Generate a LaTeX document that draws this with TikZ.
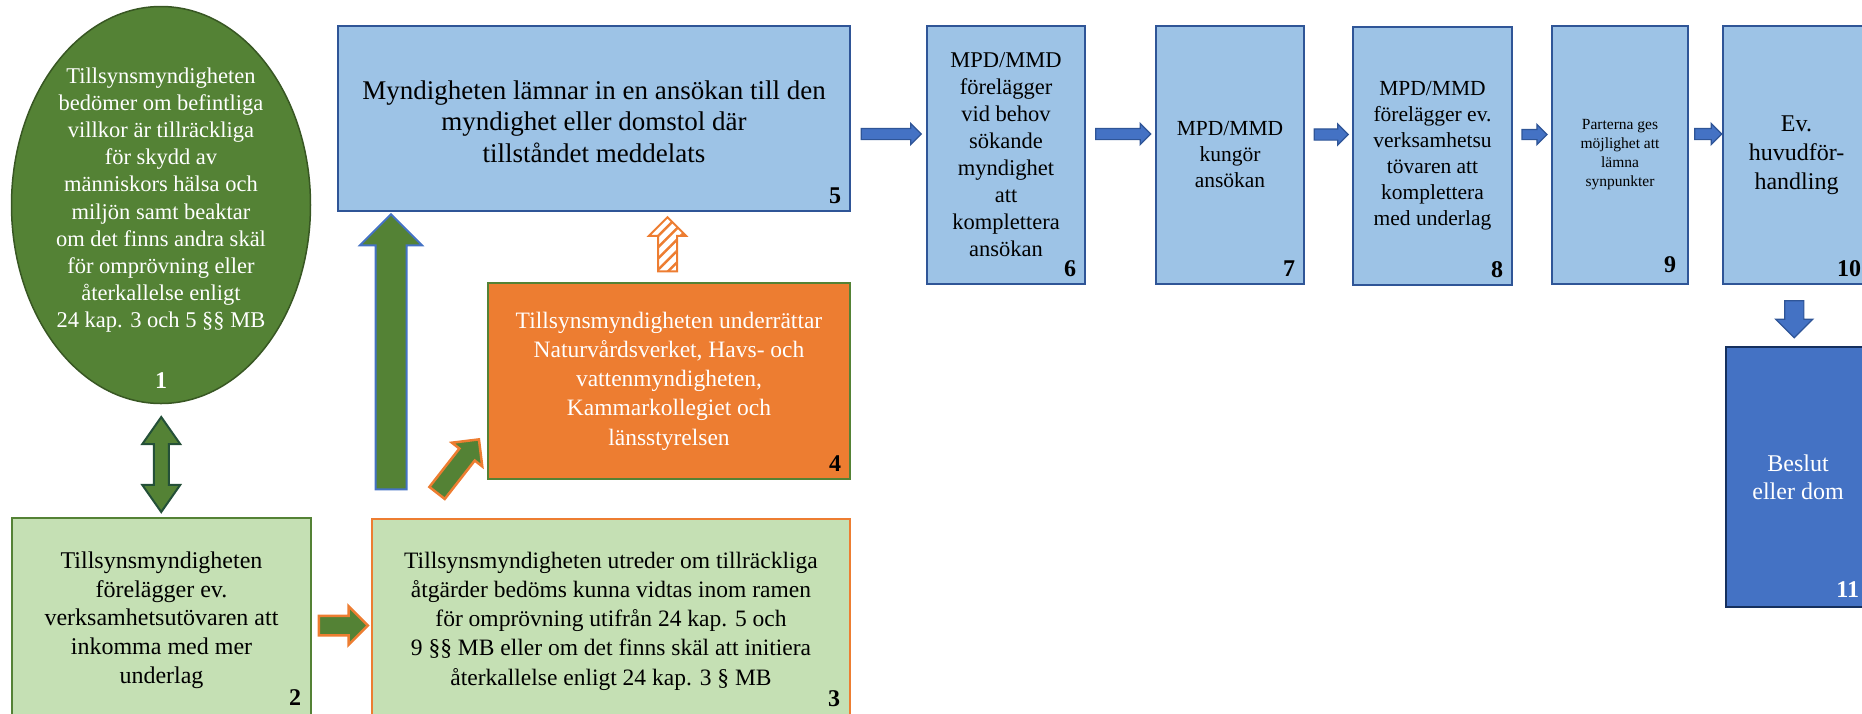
\documentclass[tikz,border=0pt]{standalone}
\usepackage{fontspec}
\setmainfont{Liberation Serif}
\usetikzlibrary{shapes.geometric,shapes.arrows,calc,patterns.meta}
\definecolor{dkgreen}{HTML}{548235}
\definecolor{dkgreenline}{HTML}{385723}
\definecolor{arrowgreenline}{HTML}{245038}
\definecolor{ltgreen}{HTML}{C5E0B4}
\definecolor{orng}{HTML}{ED7D31}
\definecolor{ltblue}{HTML}{9DC3E6}
\definecolor{blueline}{HTML}{2F5597}
\definecolor{midblue}{HTML}{4472C4}
\definecolor{navy}{HTML}{15305E}
\tikzset{
  stepbox/.style={rectangle,draw,line width=2.5pt,align=center,inner sep=0pt},
  bluebox/.style={stepbox,fill=ltblue,draw=blueline,minimum height=258pt,font=\fontsize{22.5}{27}\selectfont},
  num/.style={font=\fontsize{24}{24}\selectfont\bfseries,anchor=base east,inner sep=0pt},
  blockarrow/.style={single arrow,draw,single arrow head indent=0pt,inner xsep=0pt},
  bluearrow/.style={blockarrow,fill=midblue,draw=blueline,line width=1.2pt,inner ysep=5pt,single arrow head extend=5pt}
}
\begin{document}
\begin{tikzpicture}[x=1pt,y=-1pt]
\useasboundingbox (0,0) rectangle (1862,713);
\clip (0,0) rectangle (1862,713);
\node[ellipse,draw=dkgreenline,line width=1.5pt,fill=dkgreen,minimum width=299pt,minimum height=397pt] (e1) at (161,205) {};
\node[text=white,align=center,font=\fontsize{22.5}{27.2}\selectfont] (t1) at (161,200) {Tillsynsmyndigheten\\bedömer om befintliga\\villkor är tillräckliga\\för skydd av\\människors hälsa och\\miljön samt beaktar\\om det finns andra skäl\\för omprövning eller\\återkallelse enligt\\24 kap. 3 och 5 §§ MB};
\node[num,anchor=base,text=white] (n1) at ([yshift=16pt]e1.south) {1};
\node[stepbox,fill=ltgreen,draw=dkgreen,minimum width=299pt,minimum height=204pt,font=\fontsize{24}{28.7}\selectfont,overlay] (b2) at (161.5,620) {Tillsynsmyndigheten\\förelägger ev.\\verksamhetsutövaren att\\inkomma med mer\\underlag};
\node[stepbox,fill=ltgreen,draw=orng,minimum width=478pt,minimum height=204pt,font=\fontsize{23.5}{29.2}\selectfont,overlay] (b3) at (611,621) {Tillsynsmyndigheten utreder om tillräckliga\\åtgärder bedöms kunna vidtas inom ramen\\för omprövning utifrån 24 kap. 5 och\\9 §§ MB eller om det finns skäl att initiera\\återkallelse enligt 24 kap. 3 § MB};
\node[stepbox,fill=orng,draw=dkgreen,text=white,minimum width=362pt,minimum height=196pt,font=\fontsize{23.5}{29.2}\selectfont] (b4) at (669,381) {Tillsynsmyndigheten underrättar\\Naturvårdsverket, Havs- och\\vattenmyndigheten,\\Kammarkollegiet och\\länsstyrelsen};
\node[bluebox,minimum width=512pt,minimum height=185pt,font=\fontsize{27}{31.5}\selectfont] (b5) at (594,118.5) {\rule{0pt}{25pt}Myndigheten lämnar in en ansökan till den\\myndighet eller domstol där\\tillståndet meddelats};
\node[bluebox,minimum width=158pt] (b6) at (1006,155) {MPD/MMD\\förelägger\\vid behov\\sökande\\myndighet\\att\\komplettera\\ansökan};
\node[bluebox,minimum width=148pt,font=\fontsize{21.5}{26}\selectfont] (b7) at (1230,155) {MPD/MMD\\kungör\\ansökan};
\node[bluebox,minimum width=159pt,font=\fontsize{21.5}{26}\selectfont] (b8) at (1432.5,156) {MPD/MMD\\förelägger ev.\\verksamhetsu\\tövaren att\\komplettera\\med underlag};
\node[bluebox,minimum width=136pt,font=\fontsize{15.5}{19}\selectfont] (b9) at (1620,155) {Parterna ges\\möjlighet att\\lämna\\synpunkter};
\node[bluebox,minimum width=147pt,font=\fontsize{24}{29}\selectfont,overlay] (b10) at (1796.5,155) {Ev.\\huvudför-\\handling};
\node[stepbox,fill=midblue,draw=navy,text=white,minimum width=144pt,minimum height=260pt,font=\fontsize{24}{28}\selectfont,overlay] (b11) at (1798,477) {Beslut\\eller dom};
\foreach \b/\n in {b2/2,b3/3}
  \node[num] at ([shift={(-11,-18)}]\b.south east) {\n};
\foreach \b/\n in {b4/4,b5/5,b6/6,b7/7,b8/8,b10/10}
  \node[num] at ([shift={(-10,-9)}]\b.south east) {\n};
\node[num] at ([shift={(-13,-13)}]b9.south east) {9};
\node[num,text=white] at ([shift={(-12,-11)}]b11.south east) {11};
\node[double arrow,draw=arrowgreenline,fill=dkgreen,line width=2pt,rotate=90,minimum height=95pt,inner xsep=0pt,inner ysep=6.5pt,double arrow head extend=11.5pt,double arrow tip angle=70] (a12) at ($(e1.south)!.5!(b2.north)+(0,4)$) {};
\node[blockarrow,fill=dkgreen,draw=orng,line width=2.5pt,minimum height=49pt,inner ysep=8.5pt,single arrow head extend=9.5pt] (a23) at ($(b2.east)!.5!(b3.west)+(-3,5)$) {};
\node[blockarrow,fill=dkgreen,draw=orng,line width=2.5pt,rotate=52,minimum height=68pt,inner ysep=8.5pt,single arrow head extend=9.5pt] (a34) at (455,470) {};
\node[blockarrow,fill=dkgreen,draw=midblue,line width=2pt,rotate=90,minimum height=275pt,inner ysep=14.5pt,single arrow head extend=15.5pt] (a35) at (391,359.5) {};
\node[blockarrow,pattern={Lines[angle=45,distance=8pt,line width=2.5pt]},pattern color=orng,draw=orng,line width=2pt,rotate=90,minimum height=54pt,inner ysep=8.5pt,single arrow head extend=9pt] (a45) at (667.5,249) {};
\node[bluearrow,minimum height=60pt] (a56) at ($(b5.east|-b6.west)!.5!(b6.west)+(0,-21)$) {};
\node[bluearrow,minimum height=55pt] (a67) at ($(b6.east)!.5!(b7.west)+(0,-21)$) {};
\node[bluearrow,minimum height=34pt] (a78) at ($(b7.east)!.5!(b8.west)+(0,-21)$) {};
\node[bluearrow,minimum height=25pt,inner ysep=4.5pt] (a89) at ($(b8.east)!.5!(b9.west)+(0,-21)$) {};
\node[bluearrow,minimum height=27pt] (a910) at ($(b9.east)!.5!(b10.west)+(0,-21)$) {};
\node[bluearrow,rotate=-90,minimum height=37pt,inner ysep=9pt,single arrow head extend=9pt] (a1011) at ($(b10.south)!.5!(b11.north)+(-3,-1)$) {};
\end{tikzpicture}
\end{document}
